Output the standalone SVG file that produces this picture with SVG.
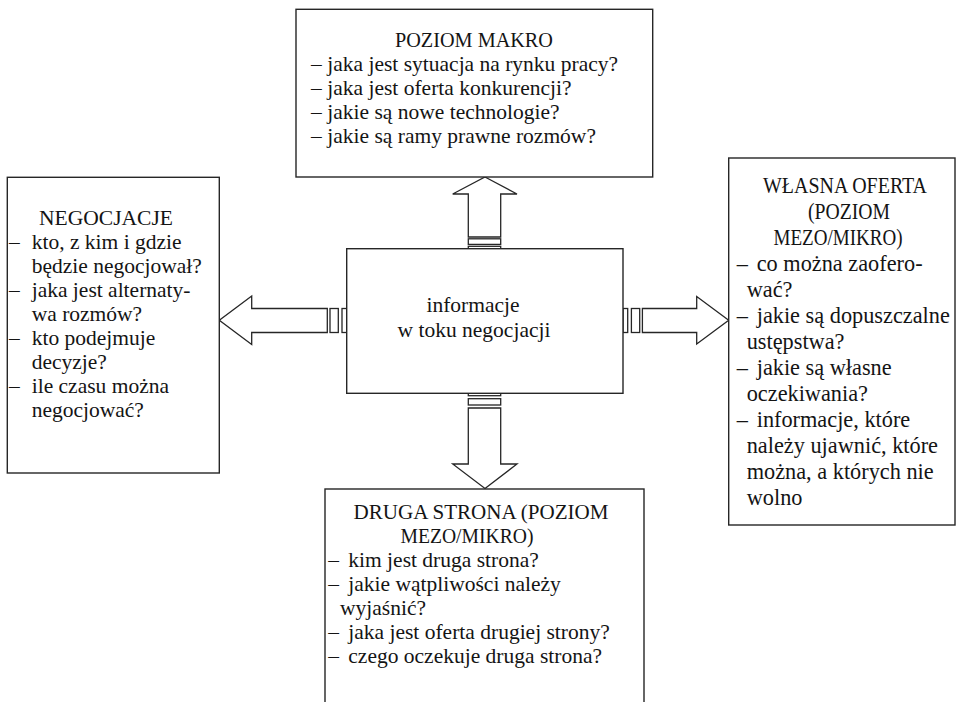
<svg xmlns="http://www.w3.org/2000/svg" width="956" height="702" viewBox="0 0 956 702">
  <style>
    .box { fill: #fff; stroke: #262626; stroke-width: 1.4; }
    .arrow { fill: #fff; stroke: #262626; stroke-width: 1.3; stroke-linejoin: miter; }
    .t { font-family: "Liberation Serif", "Times New Roman", serif; font-size: 21.5px; fill: #141414; }
    .tl { font-family: "Liberation Serif", "Times New Roman", serif; font-size: 22.3px; fill: #141414; }
    .c { text-anchor: middle; }
  </style>

  <rect width="956" height="702" fill="#fff"/>

  <!-- connectors: block arrows leaving the central box -->
  <g id="connectors">
    <!-- up -->
    <polygon class="arrow" points="485,177 517,194 500.7,194 500.7,237 468.3,237 468.3,194 452.7,194"/>
    <rect class="arrow" x="468.3" y="238.8" width="32.4" height="5.6"/>
    <rect class="arrow" x="468.3" y="246.3" width="32.4" height="2.4"/>
    <!-- down -->
    <polygon class="arrow" points="485,488.5 517,464 500.7,464 500.7,408 468.3,408 468.3,464 452.7,464"/>
    <rect class="arrow" x="468.3" y="398.7" width="32.4" height="6.3"/>
    <rect class="arrow" x="468.3" y="393.3" width="32.4" height="2.4"/>
    <!-- left -->
    <polygon class="arrow" points="219.3,320.3 251.7,296 251.7,308.5 327.3,308.5 327.3,332.5 251.7,332.5 251.7,344.5"/>
    <rect class="arrow" x="330" y="308.5" width="8.3" height="24"/>
    <rect class="arrow" x="342" y="308.5" width="4.7" height="24"/>
    <!-- right -->
    <polygon class="arrow" points="728.7,320.3 696.7,296.5 696.7,308.5 642.4,308.5 642.4,332.5 696.7,332.5 696.7,344"/>
    <rect class="arrow" x="631.4" y="308.5" width="8.3" height="24"/>
    <rect class="arrow" x="623" y="308.5" width="4.7" height="24"/>
  </g>

  <!-- central node -->
  <g id="node-center">
    <rect class="box" x="346.7" y="248.7" width="276.3" height="144.6"/>
    <text class="t c" x="473" y="312">informacje</text>
    <text class="t c" x="474" y="337">w toku negocjacji</text>
  </g>

  <!-- macro level -->
  <g id="node-makro">
    <rect class="box" x="296" y="9.3" width="356.7" height="167.7"/>
    <text class="t c" x="474" y="47" textLength="158" lengthAdjust="spacingAndGlyphs">POZIOM MAKRO</text>
    <text class="t"><tspan x="311" y="71">–</tspan><tspan x="327.3" y="71">jaka jest sytuacja na rynku pracy?</tspan></text>
    <text class="t"><tspan x="311" y="95">–</tspan><tspan x="327.3" y="95">jaka jest oferta konkurencji?</tspan></text>
    <text class="t"><tspan x="311" y="119">–</tspan><tspan x="327.3" y="119">jakie są nowe technologie?</tspan></text>
    <text class="t"><tspan x="311" y="143">–</tspan><tspan x="327.3" y="143">jakie są ramy prawne rozmów?</tspan></text>
  </g>

  <!-- negotiations -->
  <g id="node-negocjacje">
    <rect class="box" x="7.3" y="177.3" width="212" height="295.7"/>
    <text class="t c" x="106" y="225" textLength="134" lengthAdjust="spacingAndGlyphs">NEGOCJACJE</text>
    <text class="t"><tspan x="9" y="249">–</tspan><tspan x="31.7" y="249">kto, z kim i gdzie</tspan></text>
    <text class="t" x="31.7" y="273">będzie negocjował?</text>
    <text class="t"><tspan x="9" y="297">–</tspan><tspan x="31.7" y="297">jaka jest alternaty-</tspan></text>
    <text class="t" x="31.7" y="321">wa rozmów?</text>
    <text class="t"><tspan x="9" y="345">–</tspan><tspan x="31.7" y="345">kto podejmuje</tspan></text>
    <text class="t" x="31.7" y="369">decyzje?</text>
    <text class="t"><tspan x="9" y="393">–</tspan><tspan x="31.7" y="393">ile czasu można</tspan></text>
    <text class="t" x="31.7" y="417">negocjować?</text>
  </g>

  <!-- own offer -->
  <g id="node-wlasna-oferta">
    <rect class="box" x="728.7" y="158" width="226.3" height="367"/>
    <text class="tl c" x="845" y="193" textLength="164" lengthAdjust="spacingAndGlyphs">WŁASNA OFERTA</text>
    <text class="tl c" x="849" y="219" textLength="82" lengthAdjust="spacingAndGlyphs">(POZIOM</text>
    <text class="tl c" x="838" y="245" textLength="129" lengthAdjust="spacingAndGlyphs">MEZO/MIKRO)</text>
    <text class="tl"><tspan x="736.7" y="271">–</tspan><tspan x="756.7" y="271">co można zaofero-</tspan></text>
    <text class="tl" x="746.7" y="297">wać?</text>
    <text class="tl"><tspan x="736.7" y="323">–</tspan><tspan x="756.7" y="323">jakie są dopuszczalne</tspan></text>
    <text class="tl" x="746.7" y="349">ustępstwa?</text>
    <text class="tl"><tspan x="736.7" y="375">–</tspan><tspan x="756.7" y="375">jakie są własne</tspan></text>
    <text class="tl" x="746.7" y="401">oczekiwania?</text>
    <text class="tl"><tspan x="736.7" y="427">–</tspan><tspan x="756.7" y="427">informacje, które</tspan></text>
    <text class="tl" x="746.7" y="453">należy ujawnić, które</text>
    <text class="tl" x="746.7" y="479">można, a których nie</text>
    <text class="tl" x="746.7" y="505">wolno</text>
  </g>

  <!-- other party -->
  <g id="node-druga-strona">
    <rect class="box" x="325" y="489" width="319" height="230"/>
    <text class="t c" x="481" y="519.3" textLength="255" lengthAdjust="spacingAndGlyphs">DRUGA STRONA (POZIOM</text>
    <text class="t c" x="467" y="543.3" textLength="133" lengthAdjust="spacingAndGlyphs">MEZO/MIKRO)</text>
    <text class="t"><tspan x="328.3" y="567.3">–</tspan><tspan x="348.3" y="567.3">kim jest druga strona?</tspan></text>
    <text class="t"><tspan x="328.3" y="591.3">–</tspan><tspan x="348.3" y="591.3">jakie wątpliwości należy</tspan></text>
    <text class="t" x="340" y="615.3">wyjaśnić?</text>
    <text class="t"><tspan x="328.3" y="639.3">–</tspan><tspan x="348.3" y="639.3">jaka jest oferta drugiej strony?</tspan></text>
    <text class="t"><tspan x="328.3" y="663.3">–</tspan><tspan x="348.3" y="663.3">czego oczekuje druga strona?</tspan></text>
  </g>
</svg>
